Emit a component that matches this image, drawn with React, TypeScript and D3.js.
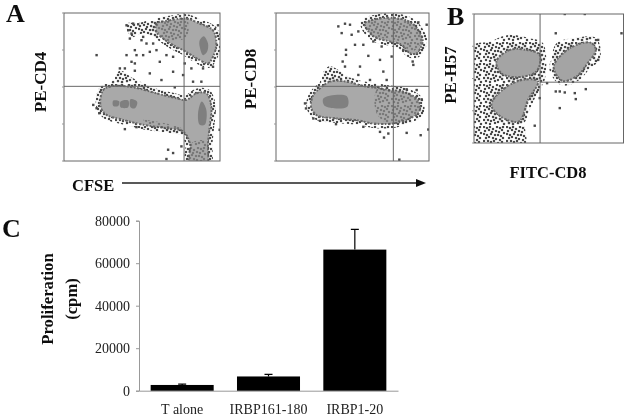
import React, { useEffect, useRef } from 'react'
import * as d3 from 'd3'

type Pt = [number, number]

// Flow plots: gate outlines and stray events, as channel readings on each plot's own grid
const cd4Upper: Pt[] = [[470,70],[510,60],[560,55],[600,70],[640,90],[650,130],[640,170],[625,190],[600,180],[575,165],[550,150],[520,135],[490,115],[470,95]]
const cd4Lower: Pt[] = [[310,270],[340,258],[400,262],[470,280],[530,295],[560,300],[590,280],[620,280],[635,320],[630,380],[625,430],[620,500],[570,500],[570,430],[550,395],[500,385],[430,375],[370,360],[320,345],[302,320]]
const cd4Fuzz: Pt[][] = [
  [[335,255],[360,212],[400,235],[450,262],[400,268],[350,270]],
  [[380,70],[415,68],[470,60],[480,110],[430,100],[395,110]],
]
const cd4Grain: Pt[][] = [
  [[465,70],[560,55],[560,110],[500,120]],
  [[575,430],[625,425],[625,490],[565,490]],
  [[430,360],[555,390],[550,400],[490,392]],
]
const cd4Cores: Pt[][] = [
  [[612,108],[625,130],[622,155],[610,165],[600,140],[600,120]],
  [[606,305],[620,330],[615,375],[600,375],[595,340]],
  [[340,302],[358,304],[355,318],[340,318]],
  [[362,305],[385,302],[385,322],[362,322]],
  [[392,298],[412,306],[405,325],[392,322]],
]
const cd4Dots: Pt[] = [[380,75],[400,70],[415,72],[385,90],[395,100],[390,115],[425,120],[440,130],[430,110],[470,150],[500,165],[480,185],[520,170],[555,190],[290,165],[380,165],[405,150],[410,165],[430,165],[395,185],[405,190],[375,205],[360,205],[405,212],[450,220],[520,215],[575,205],[610,205],[580,245],[605,245],[550,225],[505,450],[520,460],[280,315],[290,325],[298,340],[655,75],[660,390],[485,240],[525,262],[500,478],[545,440],[460,130],[450,155],[640,200],[410,382],[375,388]]

const cd8Upper: Pt[] = [[405,70],[440,58],[500,55],[545,70],[570,100],[578,125],[560,160],[540,160],[515,135],[480,125],[440,115],[415,95]]
const cd8Lower: Pt[] = [[270,265],[300,245],[350,245],[400,258],[450,265],[480,270],[520,275],[565,300],[568,335],[540,355],[490,370],[430,370],[380,360],[320,355],[260,345],[243,320],[250,285]]
const cd8Fuzz: Pt[][] = [[[270,245],[295,200],[325,210],[365,245],[320,255],[285,262]]]
const cd8Grain: Pt[][] = [
  [[400,70],[560,70],[575,125],[545,155],[510,125],[430,108]],
  [[445,262],[560,285],[565,340],[490,375],[440,340]],
]
const cd8Cores: Pt[][] = [[[280,295],[350,288],[352,320],[285,318]]]
const cd8Dots: Pt[] = [[325,80],[345,72],[360,75],[335,100],[365,105],[385,95],[375,135],[400,135],[430,125],[455,140],[348,150],[348,165],[338,185],[345,200],[390,200],[415,168],[450,180],[485,170],[520,150],[548,185],[550,195],[385,225],[420,240],[460,215],[470,240],[225,310],[228,325],[250,355],[270,362],[318,372],[400,380],[450,395],[462,412],[475,400],[530,398],[572,405],[595,388],[508,478],[575,298],[560,270],[530,268],[590,75],[565,68]]

const h57Left: Pt[] = [[125,140],[180,125],[235,105],[300,115],[340,130],[345,240],[330,265],[300,330],[285,365],[285,445],[125,445]]
const h57Right: Pt[] = [[365,190],[380,130],[430,115],[500,115],[510,180],[470,210],[440,245],[400,245],[370,225]]
const h57Clouds: Pt[][] = [
  [[185,315],[225,265],[280,240],[325,245],[295,300],[268,365],[215,352]],
  [[200,185],[240,150],[290,150],[330,165],[320,215],[260,232],[215,220]],
  [[372,200],[420,145],[482,128],[498,150],[472,192],[440,230],[398,243]],
]
const h57Dots: Pt[] = [[378,275],[390,275],[405,278],[435,280],[468,268],[438,298],[390,325],[315,378],[330,295],[405,42],[465,42],[575,100],[378,100],[505,180],[352,250],[505,120]]

// log decade marks on the flow plots
const decades = [0, 0.25, 0.5, 0.75, 1]

// Proliferation bars
const antigens = ['T alone', 'IRBP161-180', 'IRBP1-20']
const cpm = [2700, 6700, 66400]
const cpmTop = [3100, 7700, 75900]
const cpmTicks = [0, 20000, 40000, 60000, 80000]

const grainTile = [[1,1],[4,2],[7,1],[10,3],[14,1],[17,2],[20,1],[2,5],[6,4],[9,6],[13,5],[16,6],[19,4],[21,7],[1,8],[4,9],[8,8],[12,9],[15,9],[18,10],[3,12],[6,11],[10,12],[13,13],[17,14],[20,12],[1,15],[5,15],[8,16],[11,15],[15,17],[19,16],[3,18],[7,19],[12,18],[21,19]]

const serif = '"Liberation Serif", serif'

const App = () => {
  const svgRef = useRef<SVGSVGElement>(null)

  useEffect(() => {
    const svg = d3.select(svgRef.current)
    svg.selectAll('*').remove()

    const defs = svg.append('defs')
    defs.append('filter').attr('id', 'soft').append('feGaussianBlur').attr('stdDeviation', 0.55)

    // irregular speckle for the sparse event clouds
    const tile = defs
      .append('pattern')
      .attr('id', 'speckle')
      .attr('patternUnits', 'userSpaceOnUse')
      .attr('width', 23)
      .attr('height', 21)
    tile.selectAll('rect')
      .data(grainTile)
      .join('rect')
      .attr('x', (d) => d[0] - 1.1)
      .attr('y', (d) => d[1] - 1.1)
      .attr('width', 2.2)
      .attr('height', 2.2)
      .attr('fill', '#4a4a4a')

    const root = svg.append('g').attr('filter', 'url(#soft)')
    const closed = d3.line().curve(d3.curveCatmullRomClosed.alpha(0.5))

    const flowPlot = (
      id: string,
      box: { left: number; right: number; top: number; bottom: number },
      grid: { x: [number, number]; y: [number, number] },
      cross: { x: number; y: number; x0?: number },
      layers: { clouds: Pt[][]; fuzz: Pt[][]; grain: Pt[][]; cores: Pt[][]; dots: Pt[] },
      coreFill: string,
      grayFill: string
    ) => {
      const x = d3.scaleLinear().domain(grid.x).range([box.left, box.right])
      const y = d3.scaleLinear().domain(grid.y).range([box.bottom, box.top])
      const toPx = (pts: Pt[]) => pts.map((p) => [x(p[0]), y(p[1])] as Pt)
      defs.append('clipPath')
        .attr('id', id)
        .append('rect')
        .attr('x', box.left)
        .attr('y', box.top)
        .attr('width', box.right - box.left)
        .attr('height', box.bottom - box.top)
      const g = root.append('g').attr('clip-path', `url(#${id})`)

      const shapes = (cls: string, data: Pt[][]) =>
        g.selectAll(`path.${cls}`)
          .data(data)
          .join('path')
          .attr('class', cls)
          .attr('d', (d) => closed(toPx(d)))

      shapes('fuzz', layers.fuzz).attr('fill', 'url(#speckle)')
      shapes('rim', layers.clouds)
        .attr('fill', 'none')
        .attr('stroke', 'url(#speckle)')
        .attr('stroke-width', 9)
      shapes('cloud', layers.clouds)
        .attr('fill', grayFill)
        .attr('stroke', '#666')
        .attr('stroke-width', 2)
        .attr('stroke-dasharray', '1.6 1.2 2.4 1.8')
      shapes('grain', layers.grain).attr('fill', 'url(#speckle)').attr('opacity', 0.5)
      shapes('core', layers.cores).attr('fill', coreFill)

      g.selectAll('rect.dot')
        .data(layers.dots)
        .join('rect')
        .attr('class', 'dot')
        .attr('x', (d) => x(d[0]) - 1.2)
        .attr('y', (d) => y(d[1]) - 1.2)
        .attr('width', 2.4)
        .attr('height', 2.4)
        .attr('fill', '#484848')

      const frame = root.append('g').attr('stroke', '#666').attr('fill', 'none')
      frame.append('rect')
        .attr('x', box.left)
        .attr('y', box.top)
        .attr('width', box.right - box.left)
        .attr('height', box.bottom - box.top)
      frame.append('line').attr('x1', x(cross.x)).attr('x2', x(cross.x)).attr('y1', box.top).attr('y2', box.bottom)
      frame.append('line').attr('x1', x(cross.x0 ?? grid.x[0])).attr('x2', box.right).attr('y1', y(cross.y)).attr('y2', y(cross.y))
      frame.selectAll('path.tick')
        .data(decades)
        .join('path')
        .attr('class', 'tick')
        .attr('d', (d) => `M${box.left - 2},${box.bottom - d * (box.bottom - box.top)}h2`)
        .attr('stroke', '#999')
    }

    flowPlot('p1', { left: 64, right: 220, top: 13, bottom: 161 }, { x: [192, 661], y: [484, 38] }, { x: 553, y: 259 },
      { clouds: [cd4Upper, cd4Lower], fuzz: cd4Fuzz, grain: cd4Grain, cores: cd4Cores, dots: cd4Dots }, '#7f7f7f', '#a9a9a9')
    flowPlot('p2', { left: 276, right: 429, top: 13, bottom: 161 }, { x: [138, 597], y: [482, 40] }, { x: 490, y: 259 },
      { clouds: [cd8Upper, cd8Lower], fuzz: cd8Fuzz, grain: cd8Grain, cores: cd8Cores, dots: cd8Dots }, '#808080', '#a9a9a9')
    flowPlot('p3', { left: 474, right: 623.5, top: 14, bottom: 143 }, { x: [133, 581], y: [430, 42] }, { x: 331, y: 247, x0: 331 },
      { clouds: h57Clouds, fuzz: [h57Left, h57Right], grain: [], cores: [], dots: h57Dots }, '#a4a4a4', '#a4a4a4')

    // CFSE arrow
    root.append('line').attr('x1', 122).attr('x2', 418).attr('y1', 183).attr('y2', 183).attr('stroke', '#222').attr('stroke-width', 1.3)
    root.append('path').attr('d', 'M416,179L426,183L416,187Z').attr('fill', '#111')

    // bars
    const xBar = d3.scaleBand().domain(antigens).range([139, 398]).paddingInner(0.27).paddingOuter(0.135)
    const yBar = d3.scaleLinear().domain([0, 80000]).range([390.7, 220.7])
    const gC = root.append('g')
    const yAxis = gC
      .append('g')
      .attr('transform', 'translate(139,0)')
      .call(d3.axisLeft(yBar).tickValues(cpmTicks).tickFormat(d3.format('d')).tickSize(3).tickPadding(6))
    const xAxis = gC
      .append('g')
      .attr('transform', 'translate(0,390.7)')
      .call(d3.axisBottom(xBar).tickSize(0).tickPadding(13))
    ;[yAxis, xAxis].forEach((a) => {
      a.selectAll('path,line').attr('stroke', '#999')
      a.selectAll('text').attr('fill', '#222').style('font-family', serif).style('font-size', '14px')
    })
    gC.selectAll('rect')
      .data(antigens)
      .join('rect')
      .attr('x', (d) => xBar(d)!)
      .attr('width', xBar.bandwidth())
      .attr('y', (_, i) => yBar(cpm[i]))
      .attr('height', (_, i) => yBar(0) - yBar(cpm[i]))
      .attr('fill', '#000')
    gC.selectAll('path.err')
      .data(antigens)
      .join('path')
      .attr('class', 'err')
      .attr('d', (d, i) => {
        const c = xBar(d)! + xBar.bandwidth() / 2
        return `M${c},${yBar(cpm[i])}V${yBar(cpmTop[i])}M${c - 4},${yBar(cpmTop[i])}H${c + 4}`
      })
      .attr('fill', 'none')
      .attr('stroke', '#000')
      .attr('stroke-width', 1.2)

    // labels
    const label = (t: string, x: number, y: number, size: number, rotate = false, anchor = 'middle') =>
      root
        .append('text')
        .text(t)
        .attr('transform', `translate(${x},${y})${rotate ? ' rotate(-90)' : ''}`)
        .attr('text-anchor', anchor)
        .attr('fill', '#111')
        .style('font-family', serif)
        .style('font-weight', 'bold')
        .style('font-size', `${size}px`)

    label('A', 6, 22, 26, false, 'start')
    label('B', 447, 25, 26, false, 'start')
    label('C', 2, 237, 26, false, 'start')
    label('PE-CD4', 46, 82, 17, true)
    label('PE-CD8', 256, 79, 17, true)
    label('PE-H57', 456, 75, 17, true)
    label('CFSE', 72, 191, 16.5, false, 'start')
    label('FITC-CD8', 548, 178, 16.5)
    label('Proliferation', 53, 299, 16.7, true)
    label('(cpm)', 77, 299, 16.7, true)
  }, [])

  return (
    <svg
      ref={svgRef}
      width={624}
      height={419}
      viewBox="0 0 624 419"
      style={{ position: 'absolute', left: 0, top: 0, background: '#fff' }}
    />
  )
}

export default App
